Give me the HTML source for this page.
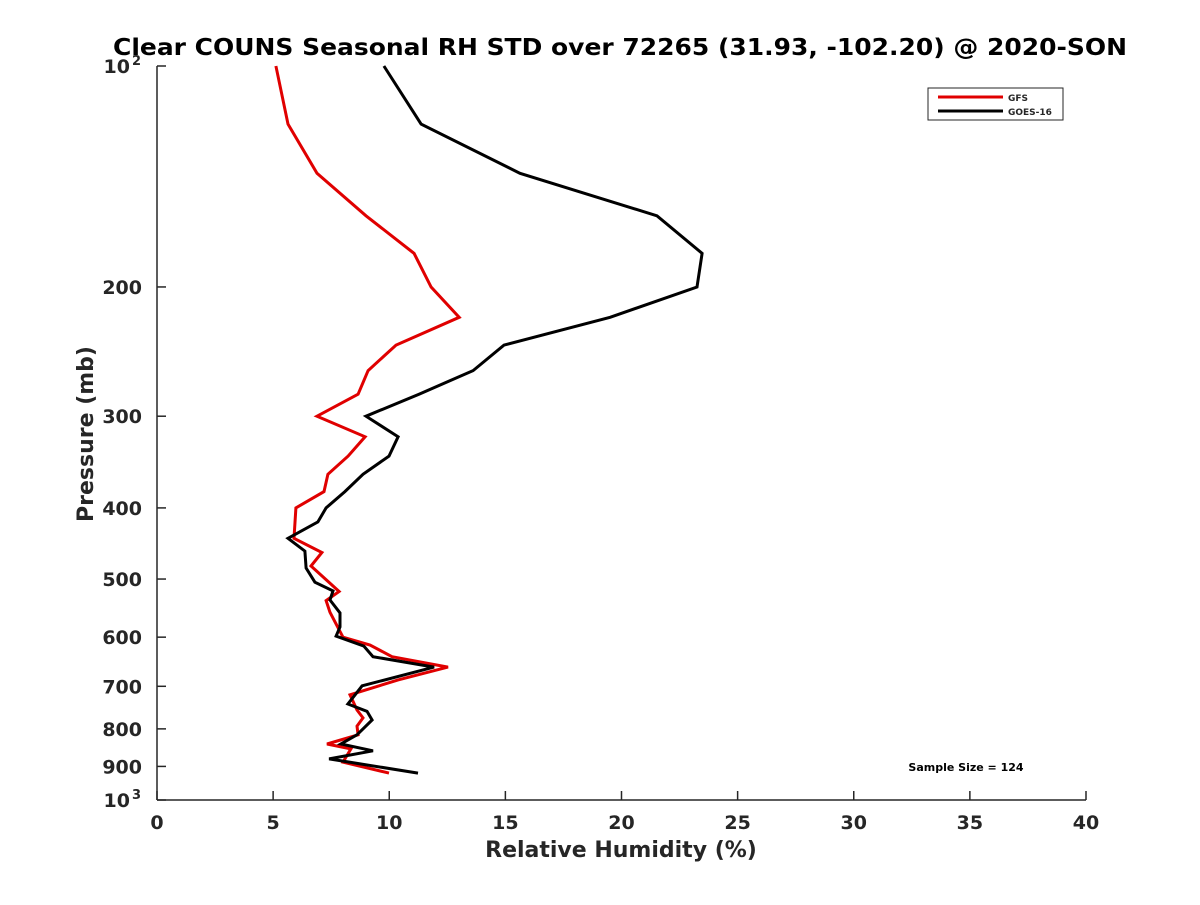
<!DOCTYPE html>
<html><head><meta charset="utf-8"><style>
body{margin:0;background:#fff}
text{font-family:"DejaVu Sans","Liberation Sans",sans-serif;font-weight:bold;fill:#262626}
</style></head><body>
<svg id="c" width="1200" height="900">
<rect width="1200" height="900" fill="#fff"/>
<text x="620" y="55" text-anchor="middle" font-size="23" textLength="1014" lengthAdjust="spacingAndGlyphs" style="fill:#000">Clear COUNS Seasonal RH STD over 72265 (31.93, -102.20) @ 2020-SON</text>
<g id="axes"></g>
<g id="series"></g>
<g>
<rect x="928" y="88" width="135" height="32" fill="#fff" stroke="#262626" stroke-width="1"/>
<line x1="938" y1="97" x2="1003" y2="97" stroke="#e00000" stroke-width="3"/>
<text x="1008" y="101" font-size="9">GFS</text>
<line x1="938" y1="111" x2="1003" y2="111" stroke="#000" stroke-width="3"/>
<text x="1008" y="115" font-size="9">GOES-16</text>
</g>
<text x="966" y="771" text-anchor="middle" font-size="11" style="fill:#000">Sample Size = 124</text>
<text x="621" y="857" text-anchor="middle" font-size="22">Relative Humidity (%)</text>
<text transform="translate(93,434) rotate(-90)" text-anchor="middle" font-size="22">Pressure (mb)</text>
</svg>
<script>
const xTicks=[0,5,10,15,20,25,30,35,40];
const yTicks=[100,200,300,400,500,600,700,800,900,1000];
const yTickLabels=["10|2","200","300","400","500","600","700","800","900","10|3"];
const gfsPressure=[100,120,140,160,180,200,220,240,260,280,300,320,340,360,380,400,440,460,480,520,535,555,600,615,638,659,686,719,754,773,793,815,839,852,888,919];
const gfsRH=[5.12,5.64,6.89,9.0,11.07,11.8,13.01,10.29,9.09,8.66,6.89,8.96,8.23,7.36,7.19,5.98,5.9,7.1,6.63,7.84,7.28,7.45,8.01,9.17,10.12,12.53,10.38,8.31,8.61,8.87,8.61,8.66,7.32,8.35,8.01,9.99];
const goesPressure=[100,120,140,160,180,200,220,240,260,280,300,320,340,360,380,400,418,440,458,483,505,519,534,556,581,598,617,638,659,699,719,740,757,778,815,839,857,879,919];
const goesRH=[9.77,11.37,15.63,21.53,23.47,23.25,19.51,14.94,13.61,11.28,9.0,10.38,9.99,8.87,8.09,7.28,6.93,5.64,6.37,6.42,6.8,7.58,7.45,7.88,7.88,7.71,8.91,9.3,11.93,8.83,8.53,8.22,9.04,9.26,8.61,7.92,9.3,7.41,11.24];
const X0=157,X1=1086,Y0=66,Y1=800;
const xs=v=>X0+(v/40)*(X1-X0);
const ys=p=>Y0+Math.log10(p/100)*(Y1-Y0);
const NS="http://www.w3.org/2000/svg";
const ax=document.getElementById('axes');
function mk(t,a,parent){const e=document.createElementNS(NS,t);for(const k in a)e.setAttribute(k,a[k]);parent.appendChild(e);return e;}
let l=mk('line',{x1:X0,y1:Y0,x2:X0,y2:Y1,stroke:'#262626','stroke-width':1.5},ax);


l=mk('line',{x1:X0,y1:Y1,x2:X1,y2:Y1,stroke:'#262626','stroke-width':1.5},ax);


xTicks.forEach(v=>{
 const x=xs(v);
 mk('line',{x1:x,y1:Y1,x2:x,y2:Y1-9,stroke:'#262626','stroke-width':1.5},ax);
 const t=mk('text',{x:x,y:Y1+29,'text-anchor':'middle','font-size':19},ax);
 t.textContent=v;
 
 
});
yTicks.forEach((p,i)=>{
 const y=ys(p);
 mk('line',{x1:X0,y1:y,x2:X0+9,y2:y,stroke:'#262626','stroke-width':1.5},ax);
 const lab=yTickLabels[i];
 if(lab.indexOf('|')>=0){
  const [b,e]=lab.split('|');
  const t=mk('text',{x:X0-27,y:y+7,'text-anchor':'end','font-size':19},ax);
  t.textContent=b;
  
  
  const s=mk('text',{x:X0-16,y:y-1,'text-anchor':'end','font-size':13},ax);
  s.textContent=e;
  
  
 } else {
  const t=mk('text',{x:X0-15,y:y+7,'text-anchor':'end','font-size':19},ax);
  t.textContent=lab;
  
  
 }
});
const sg=document.getElementById('series');
function line(rh,pr,color,name){
 const pts=rh.map((v,i)=>xs(v).toFixed(1)+','+ys(pr[i]).toFixed(1)).join(' ');
 const e=mk('polyline',{points:pts,fill:'none',stroke:color,'stroke-width':3,'stroke-linejoin':'miter'},sg);
 
 
}
line(gfsRH,gfsPressure,'#e00000','gfs-line');
line(goesRH,goesPressure,'#000','goes16-line');
</script>
</body></html>
